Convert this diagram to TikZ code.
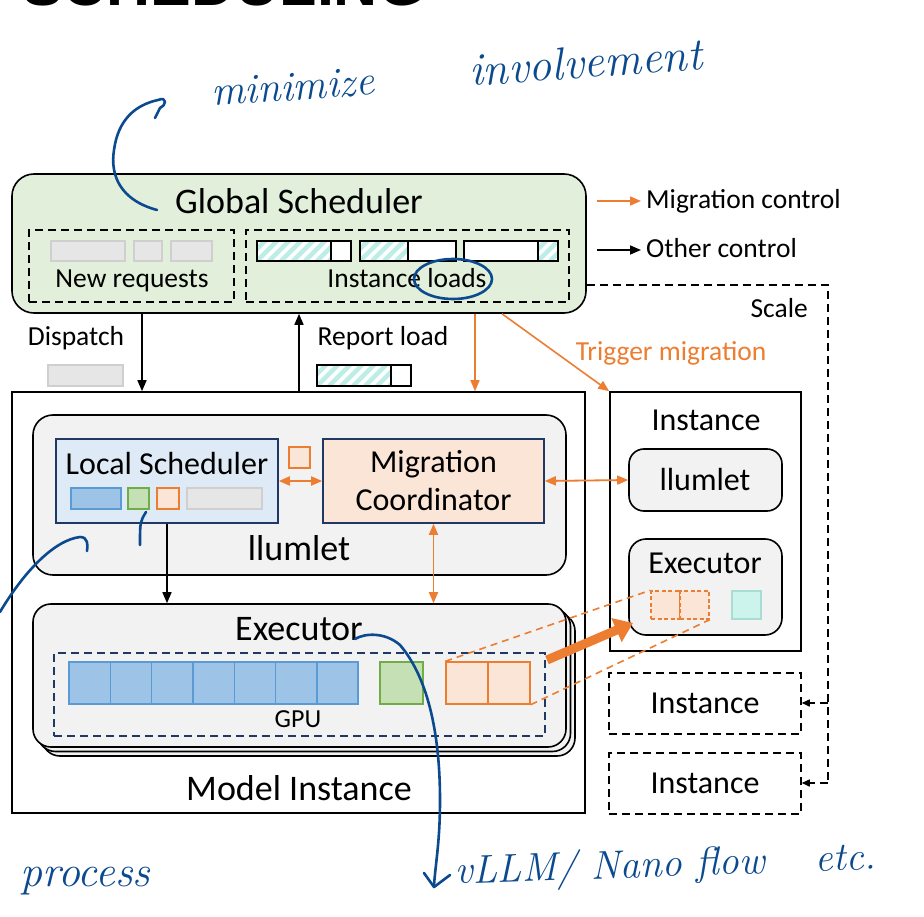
\documentclass[tikz,border=0pt]{standalone}
\usepackage{fontspec}
\setsansfont{Carlito}
\newfontfamily\titlefont{Liberation Sans}
\usepackage{tikz}
\usetikzlibrary{positioning,arrows.meta,calc,fit}
\definecolor{gsgreen}{HTML}{E2EFDA}
\definecolor{boxgray}{HTML}{F2F2F2}
\definecolor{lsblue}{HTML}{DEEBF7}
\definecolor{navyline}{HTML}{1F3864}
\definecolor{migorange}{HTML}{ED7D31}
\definecolor{migfill}{HTML}{FBE5D6}
\definecolor{kvblue}{HTML}{9DC3E6}
\definecolor{kvblueline}{HTML}{5B9BD5}
\definecolor{kvgreen}{HTML}{C5E0B4}
\definecolor{kvgreenline}{HTML}{70AD47}
\definecolor{reqgray}{HTML}{E7E6E6}
\definecolor{reqgrayline}{HTML}{D0CECE}
\definecolor{loadteal}{HTML}{BDEDE7}
\definecolor{tealcell}{HTML}{CCF4EC}
\definecolor{tealline}{HTML}{A9DDD3}
\definecolor{inkblue}{HTML}{0B4A8F}
\newcommand{\fsbig}{\sffamily\fontsize{36}{40}\selectfont}
\newcommand{\fsmid}{\sffamily\fontsize{32}{36}\selectfont}
\newcommand{\fssmall}{\sffamily\fontsize{27.5}{30}\selectfont}
\newcommand{\fsgpu}{\sffamily\fontsize{26}{28}\selectfont}
\newcommand{\fshand}[2]{\itshape\addfontfeatures{LetterSpace=#2}\fontsize{#1}{#1}\selectfont}
\tikzset{
  rbox/.style    ={draw=black, line width=1.6pt, rounded corners=18pt, fill=boxgray, inner sep=0pt},
  sqbox/.style   ={draw=black, line width=1.6pt, fill=white, inner sep=0pt},
  dashbox/.style ={draw=black, line width=1.5pt, dash pattern=on 8pt off 5pt, inner sep=0pt},
  gpubox/.style  ={draw=navyline, line width=1.5pt, dash pattern=on 8pt off 5pt, inner sep=0pt},
  lsbox/.style   ={draw=navyline, line width=1.6pt, fill=lsblue, inner sep=0pt},
  mcbox/.style   ={draw=navyline, line width=1.6pt, fill=migfill, inner sep=0pt},
  reqcell/.style ={draw=reqgrayline, line width=1.5pt, fill=reqgray},
  bcell/.style   ={draw=kvblueline, line width=1.4pt, fill=kvblue},
  gcell/.style   ={draw=kvgreenline, line width=1.4pt, fill=kvgreen},
  ocell/.style   ={draw=migorange, line width=1.4pt, fill=migfill, inner sep=0pt},
  dcell/.style   ={ocell, dash pattern=on 4pt off 2.5pt},
  tcell/.style   ={draw=tealline, line width=1.4pt, fill=tealcell},
  barline/.style ={draw=black, line width=1.3pt},
  tlabel/.style  ={inner sep=0pt, anchor=base},
  ctrl/.style    ={-{Triangle[length=11pt,width=9pt]}, line width=1.6pt},
  migr/.style    ={ctrl, draw=migorange},
  bimigr/.style  ={{Triangle[length=11pt,width=9pt]}-{Triangle[length=11pt,width=9pt]}, line width=1.8pt, draw=migorange},
  kvdash/.style  ={draw=migorange, line width=1.6pt, dash pattern=on 7pt off 5pt},
  kvmove/.style  ={-{Triangle[length=18pt,width=25pt]}, line width=9pt, draw=migorange},
  dashln/.style  ={line width=1.5pt, dash pattern=on 8pt off 5pt},
  scl/.style     ={dashln, -{Triangle[length=8pt,width=7pt]}},
  pen/.style     ={draw=inkblue, line width=2.6pt, line cap=round, line join=round},
  hand/.style    ={text=inkblue, inner sep=0pt, anchor=base west},
}
\newcommand{\loadbar}[6]{%
  \fill[white] (#1,#3) rectangle (#2,#4);
  \begin{scope}
    \clip (#5,#3) rectangle (#6,#4);
    \foreach \s in {0,12,...,132}
      \draw[loadteal, line width=4.5pt] ({#5-36+\s},#4) -- ++(30,-30);
  \end{scope}
  \draw[barline] (#1,#3) rectangle (#2,#4);
  \draw[barline] (#5,#3) -- (#5,#4) (#6,#3) -- (#6,#4);}

\begin{document}
\begin{tikzpicture}[x=1pt, y=-1pt]
  \useasboundingbox (0,0) rectangle (924,917);
  \begin{scope}
    \clip (0,0) rectangle (924,917);
    \node[inner sep=0pt, anchor=base west, font=\titlefont\bfseries\fontsize{61}{61}\selectfont] (title) at (22,6) {SCHEDULING};
  \end{scope}

  \node[rbox, fill=gsgreen, rounded corners=22pt, fit={(12,174)(586,313)}] (gs) {};
  \node[tlabel, font=\fsbig] at (299,214) {Global Scheduler};
  \node[dashbox, fit={(29,230)(234,302)}] (newreq) {};
  \node[dashbox, fit={(246,230)(569,302)}] (loads) {};
  \foreach \a/\b in {51/125,134/162,171/212} \draw[reqcell] (\a,241) rectangle (\b,261);
  \node[tlabel, font=\fssmall] at (132,288) {New requests};
  \loadbar{257}{351}{241}{261}{257}{331}
  \loadbar{360}{456}{241}{261}{360}{408}
  \loadbar{464}{558}{241}{261}{538}{558}
  \node[tlabel, font=\fssmall] at (407,288) {Instance loads};

  \coordinate (legA) at (597,201); \coordinate (legB) at (641,201);
  \coordinate (legC) at (597,250); \coordinate (legD) at (641,250);
  \draw[migr] (legA) -- (legB);
  \draw[ctrl] (legC) -- (legD);
  \node[tlabel, anchor=base west, font=\fssmall] at (646,209) {Migration control};
  \node[tlabel, anchor=base west, font=\fssmall] at (646,258) {Other control};

  \node[tlabel, font=\fssmall] at (76,345) {Dispatch};
  \draw[reqcell] (48,365) rectangle (123,386);
  \node[tlabel, font=\fssmall] at (383,345) {Report load};
  \loadbar{317}{411}{365}{386}{317}{391}

  \node[sqbox, fit={(12,392)(585,813)}] (mi) {};
  \node[tlabel, font=\fsbig] at (299,800) {Model Instance};

  \node[rbox, rounded corners=20pt, fit={(33,415)(566,575)}] (llumlet) {};
  \node[tlabel, font=\fsbig] at (299,560) {llumlet};
  \node[lsbox, fit={(56,439)(278,523)}] (ls) {};
  \node[tlabel, font=\fsmid] at (167,474) {Local Scheduler};
  \draw[bcell] (71,488) rectangle (121,509);
  \draw[gcell] (128,488) rectangle (149,509);
  \draw[ocell] (157,488) rectangle (179,509);
  \draw[reqcell] (187,488) rectangle (262,509);
  \node[mcbox, fit={(323,439)(544,523)}] (mc) {};
  \node[tlabel, font=\fsmid] at (433.5,472) {Migration};
  \node[tlabel, font=\fsmid] at (433.5,510) {Coordinator};
  \draw[ocell] (289,447) rectangle (310,468);

  \foreach \d in {9,4.5} \draw[rbox] ({33+\d},{604+\d}) rectangle ({566+\d},{747+\d});
  \node[rbox, fit={(33,604)(566,747)}] (ex) {};
  \node[tlabel, font=\fsbig] at (299,640) {Executor};
  \node[gpubox, fit={(54,653)(545,736)}] (gpu) {};
  \node[tlabel, font=\fsgpu] at (298,727) {GPU};
  \foreach \i in {0,...,6} \draw[bcell] ({69+41.3*\i},662) rectangle ({110.3+41.3*\i},704);
  \draw[gcell] (380,662) rectangle (423,704);
  \node[ocell, minimum width=42pt, minimum height=42pt] (oc1) at (467,683) {};
  \node[ocell, minimum width=42pt, minimum height=42pt] (oc2) at (509,683) {};

  \node[sqbox, fit={(610,392)(801,651)}] (inst) {};
  \node[tlabel, font=\fsmid] at (706,430) {Instance};
  \node[rbox, rounded corners=15pt, fit={(629,449)(782,511)}] (rll) {};
  \node[tlabel, font=\fsmid] at (705,490) {llumlet};
  \node[rbox, rounded corners=17pt, fit={(629,539)(782,635)}] (rex) {};
  \node[tlabel, font=\fsmid] at (705,573) {Executor};
  \node[dcell, minimum width=29pt, minimum height=28pt] (dc1) at (665.5,605) {};
  \node[dcell, minimum width=29pt, minimum height=28pt] (dc2) at (694.5,605) {};
  \draw[tcell] (732,591) rectangle (761,619);

  \node[dashbox, fit={(609,673)(801,734)}] (inst1) {};
  \node[tlabel, font=\fsmid] at (705,713) {Instance};
  \node[dashbox, fit={(609,753)(801,814)}] (inst2) {};
  \node[tlabel, font=\fsmid] at (705,793) {Instance};

  \coordinate (dispx) at (142,0);
  \coordinate (repx) at (299,0);
  \coordinate (migx) at (475,0);
  \coordinate (trigx) at (502,0);
  \draw[ctrl] (gs.south -| dispx) -- (mi.north -| dispx);
  \draw[ctrl] (mi.north -| repx) -- (gs.south -| repx);
  \draw[migr] (gs.south -| migx) -- (mi.north -| migx);
  \draw[migr] (gs.south -| trigx) -- (inst.north west);
  \node[tlabel, text=migorange, font=\fssmall] at (671,360) {Trigger migration};
  \draw[bimigr] (ls.east) -- (mc.west);
  \draw[bimigr] (mc.east) -- (rll.west);
  \draw[bimigr] (mc.south) -- (ex.north -| mc.south);
  \draw[ctrl] (ls.south) -- (ex.north -| ls.south);
  \draw[kvdash] (oc1.north west) -- (dc1.north west);
  \draw[kvdash] (oc2.south east) -- (dc2.south east);
  \coordinate (kvsrc) at (547,660);
  \coordinate (kvdst) at (633,623);
  \draw[kvmove] (kvsrc) -- (kvdst);

  \coordinate (sclcorner) at (828,285);
  \coordinate (sclmid) at (828,703);
  \coordinate (sclend) at (828,783);
  \draw[dashln] (sclcorner -| gs.east) -- (sclcorner) -- (sclend);
  \draw[scl] (sclmid) -- (sclmid -| inst1.east);
  \draw[scl] (sclend) -- (sclend -| inst2.east);
  \node[tlabel, anchor=base east, font=\fssmall] at (808,318) {Scale};

  \node[hand, rotate=4, font=\fshand{42}{10}] (minimize) at (212,106) {minimize};
  \node[hand, rotate=4, font=\fshand{46}{13}] (involve) at (470,86) {involvement};
  \node[hand, font=\fshand{44}{6}] (process) at (20,886) {process};
  \node[hand, rotate=2, font=\fshand{40}{5}] (engines) at (455,884) {vLLM/ Nano flow\hspace{50pt}etc.};
  \draw[pen] (157,210) .. controls (120,200) and (110,175) .. (114,150)
             .. controls (118,120) and (135,105) .. (158,100)
             .. controls (168,96) and (166,106) .. (160,108) -- (155,118);
  \draw[pen] (453,279) ellipse [x radius=39, y radius=20];
  \draw[pen] (146,512) .. controls (140,522) .. (140,545);
  \draw[pen] (0,612) .. controls (25,570) and (55,540) .. (80,537)
             .. controls (88,537) and (88,545) .. (87,551);
  \draw[pen] (355,639) .. controls (365,633) and (385,632) .. (400,645)
             .. controls (430,680) and (440,740) .. (440,800)
             .. controls (440,840) and (436,860) .. (434,885);
  \draw[pen] (424,873) -- (434,887) -- (450,875);
\end{tikzpicture}
\end{document}
